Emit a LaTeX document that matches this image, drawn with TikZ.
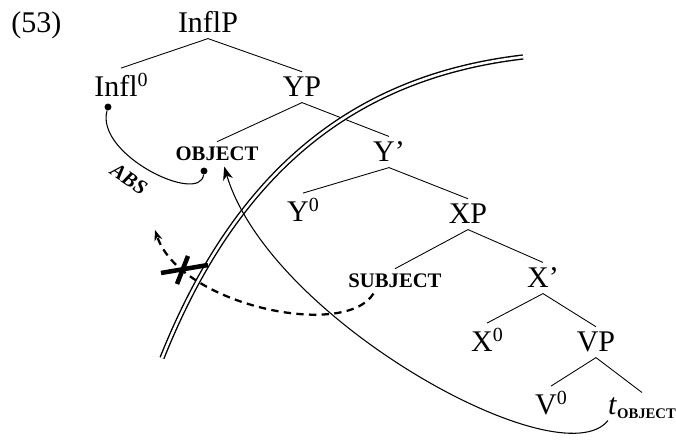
\documentclass[tikz,border=0pt]{standalone}
\usepackage{fontspec}
\setmainfont{Liberation Serif}
\usetikzlibrary{arrows.meta}
\tikzset{
  cat/.style={inner xsep=0pt, inner ysep=4pt, text depth=0pt, anchor=base, font=\fontsize{22.5}{27}\selectfont},
  sc/.style={cat, font=\fontsize{15.5}{18}\selectfont\bfseries},
  br/.style={line width=0.65pt},
  dotn/.style={circle, fill=black, inner sep=0pt, minimum size=5.2pt},
  mv/.style={line width=0.8pt, -{Stealth[length=10pt, width=7.5pt, inset=3pt]}},
  blk/.style={line width=1.7pt, dash pattern=on 5.5pt off 4pt, -{Stealth[length=8pt, width=6pt, inset=2.5pt]}},
  barrier/.style={line width=1.05pt, double distance=1.9pt},
  cross/.style={line width=3.4pt},
}
\newcommand{\zero}{\raisebox{7.5pt}{\fontsize{15}{17}\selectfont 0}}

\begin{document}
\begin{tikzpicture}[x=0.75pt, y=-0.75pt]
  \useasboundingbox (0,0) rectangle (676,441);
  \node[cat, anchor=base west] (ex) at (11,33) {(53)};
  % tree
  \node[cat] (InflP) at (208,33) {InflP};
  \node[cat] (Infl) at (121,97) {Infl\zero};
  \node[cat] (YP) at (302,97) {YP};
  \node[sc] (obj) at (217,161) {OBJECT};
  \node[cat] (Ybar) at (389,162) {Y’};
  \node[cat] (Y0) at (303,222) {Y\zero};
  \node[cat] (XP) at (468,224) {XP};
  \node[sc] (subj) at (395,288) {SUBJECT};
  \node[cat] (Xbar) at (543,288) {X’};
  \node[cat] (X0) at (487,352) {X\zero};
  \node[cat] (VP) at (596,352) {VP};
  \node[cat] (V0) at (551,415) {V\zero};
  \node[cat] (tobj) at (642,415) {\textit{t}{\fontsize{11}{13}\selectfont\bfseries\raisebox{-2.5pt}{OBJECT}}};
  \draw[br] (InflP.south) -- (Infl.north);
  \draw[br] (InflP.south) -- (YP.north);
  \draw[br] (YP.south) -- (obj.north);
  \draw[br] (YP.south) -- (Ybar.north);
  \draw[br] (Ybar.south) -- (Y0.north);
  \draw[br] (Ybar.south) -- (XP.north);
  \draw[br] (XP.south) -- (subj.north);
  \draw[br] (XP.south) -- (Xbar.north);
  \draw[br] (Xbar.south) -- (X0.north);
  \draw[br] (Xbar.south) -- (VP.north);
  \draw[br] (VP.south) -- (V0.north);
  \draw[br] (VP.south) -- (tobj.north);
  % the barrier
  \draw[barrier] (162,358) .. controls (232,183) and (343,78) .. (523,57);
  % ABS link
  \node[dotn] (dA) at (108,107) {};
  \node[dotn] (dB) at (204,171) {};
  \draw[br, line width=0.8pt] (dA) .. controls (95,155) and (200,205) .. (dB);
  \node[font=\fontsize{15.5}{18}\selectfont\bfseries\itshape, rotate=-34] (abs) at (129,179) {ABS};
  % movements
  \draw[mv] (tobj.south west) .. controls (560,480) and (270,320) .. (obj.300);
  \coordinate (blkend) at (155,230);
  \draw[blk] (subj.210) .. controls (345,340) and (180,305) .. (blkend);
  \draw[cross] (161,273) -- (208,265);
  \draw[cross] (188,256) -- (177,284);
\end{tikzpicture}
\end{document}
